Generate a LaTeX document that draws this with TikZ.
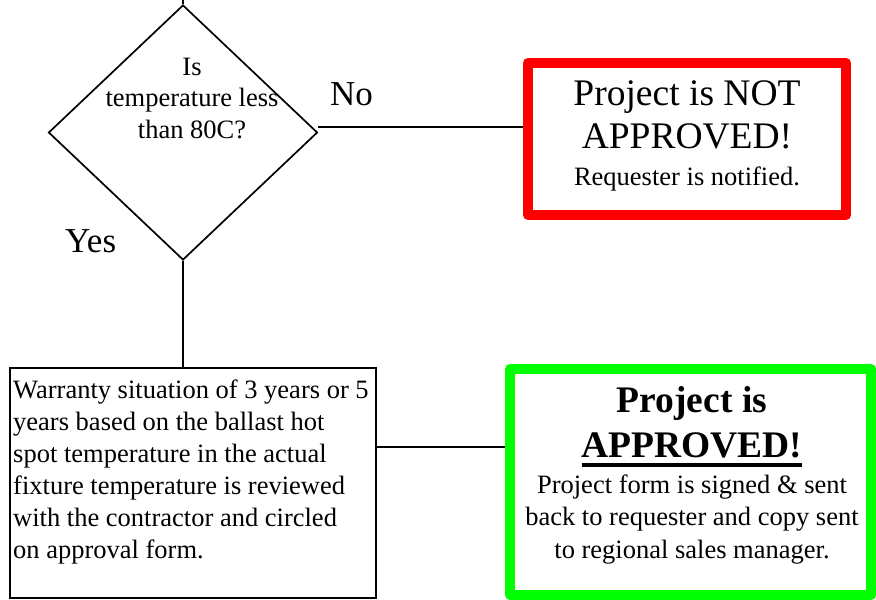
\documentclass[tikz,border=0pt]{standalone}
\usepackage{fontspec}
\setmainfont{Liberation Serif}
\usetikzlibrary{shapes.geometric}
\newcommand\ulbar[1]{\setbox0\hbox{#1}\rlap{\rule[-9.5pt]{\wd0}{3.2pt}}\box0}
\begin{document}
\begin{tikzpicture}[x=1pt,y=-1pt,
  conn/.style={line width=1.8pt},
  txt/.style={inner sep=0pt, align=center, font=\fontsize{26.5}{32}\selectfont},
  big/.style={inner sep=0pt, align=center, font=\fontsize{37.5}{43}\selectfont},
  bigb/.style={inner sep=0pt, align=center, font=\fontsize{37.5}{45}\selectfont\bfseries},
  lbl/.style={inner sep=0pt, font=\fontsize{35}{40}\selectfont},
  redbox/.style={draw=red, line width=10pt, line join=round, minimum width=318pt, minimum height=152pt, inner sep=0pt},
  grnbox/.style={draw=green, line width=10pt, line join=round, minimum width=361pt, minimum height=226pt, inner sep=0pt},
  plainbox/.style={draw, line width=1.8pt, minimum width=366pt, minimum height=230pt, inner sep=0pt}]
\useasboundingbox (0,0) rectangle (876,600);
\coordinate (top) at (183,0);
\node[diamond, draw, line width=1.7pt, minimum width=269pt, minimum height=255pt, inner sep=0pt] (dia) at (183,132.5) {};
\node[txt, anchor=base, font=\fontsize{26.5}{31.5}\selectfont] (q) at (192,138) {Is\\temperature less\\than 80C?};
\node[redbox] (no) at (687,139) {};
\node[big, anchor=base] (not1) at (687,148) {Project is NOT\\APPROVED!};
\node[txt, anchor=base] (not2) at (687,185) {Requester is notified.};
\node[plainbox] (warr) at (193,483) {};
\node[txt, align=left, anchor=base west] (wtxt) at (13,558) {Warranty situation of 3 years or 5\\years based on the ballast hot\\spot temperature in the actual\\fixture temperature is reviewed\\with the contractor and circled\\on approval form.};
\node[grnbox] (yes) at (690.5,482) {};
\node[bigb, anchor=base] (ok1) at (692,457) {Project is\\\ulbar{APPROVED!}};
\node[txt, anchor=base, font=\fontsize{26.5}{32.5}\selectfont] (ok2) at (692,558) {Project form is signed \& sent\\back to requester and copy sent\\to regional sales manager.};
\node[lbl, anchor=base west] (nolbl) at (330,105) {No};
\node[lbl, anchor=base west] (yeslbl) at (65,252) {Yes};
\draw[conn] (top) -- (dia.north);
\draw[conn] (dia.east |- 0,127) -- (no.west |- 0,127);
\draw[conn] (dia.south) -- (dia.south |- warr.north);
\draw[conn] (warr.east |- 0,447) -- (yes.west |- 0,447);
\end{tikzpicture}
\end{document}
